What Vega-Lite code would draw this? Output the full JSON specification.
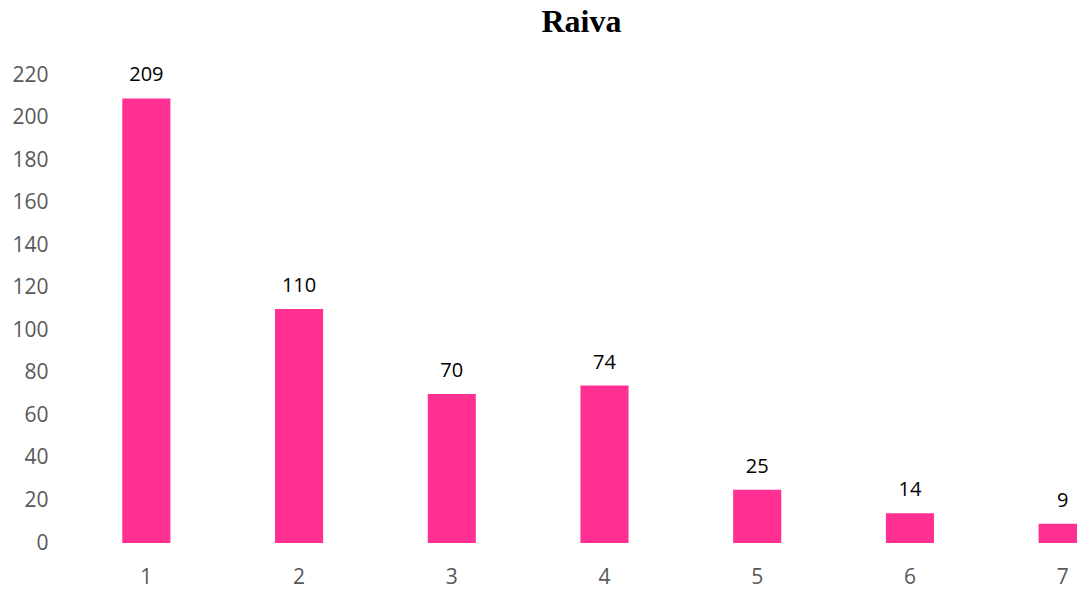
{
  "$schema": "https://vega.github.io/schema/vega-lite/v6.json",
  "autosize": {"type": "none"},
  "padding": {"left": 70, "top": 75, "right": 0, "bottom": 53},
  "width": 1069,
  "height": 468,
  "background": "white",
  "config": {"view": {"stroke": null}},
  "title": {
    "text": "Raiva",
    "font": "Liberation Serif",
    "fontSize": 32,
    "fontWeight": "bold",
    "color": "#000000",
    "anchor": "middle",
    "frame": "group",
    "dx": -23,
    "offset": 25
  },
  "data": {
    "values": [
      {"cat": "1", "value": 209},
      {"cat": "2", "value": 110},
      {"cat": "3", "value": 70},
      {"cat": "4", "value": 74},
      {"cat": "5", "value": 25},
      {"cat": "6", "value": 14},
      {"cat": "7", "value": 9}
    ]
  },
  "encoding": {
    "x": {
      "field": "cat",
      "type": "ordinal",
      "sort": null,
      "scale": {"paddingInner": 0.685, "paddingOuter": 0.3425},
      "axis": {
        "title": null,
        "labelAngle": 0,
        "ticks": false,
        "domain": false,
        "labelPadding": 23,
        "labelFont": "Open Sans",
        "labelFontSize": 21,
        "labelColor": "#595959"
      }
    },
    "y": {
      "field": "value",
      "type": "quantitative",
      "scale": {"domain": [0, 220], "nice": false},
      "axis": {
        "title": null,
        "values": [0, 20, 40, 60, 80, 100, 120, 140, 160, 180, 200, 220],
        "grid": false,
        "ticks": false,
        "domain": false,
        "labelPadding": 22,
        "labelFont": "Open Sans",
        "labelFontSize": 21,
        "labelColor": "#595959"
      }
    }
  },
  "layer": [
    {"mark": {"type": "bar", "color": "#FF3092"}},
    {
      "mark": {
        "type": "text",
        "baseline": "bottom",
        "dy": -13,
        "font": "Open Sans",
        "fontSize": 20,
        "color": "#000000"
      },
      "encoding": {"text": {"field": "value", "type": "quantitative"}}
    }
  ]
}
